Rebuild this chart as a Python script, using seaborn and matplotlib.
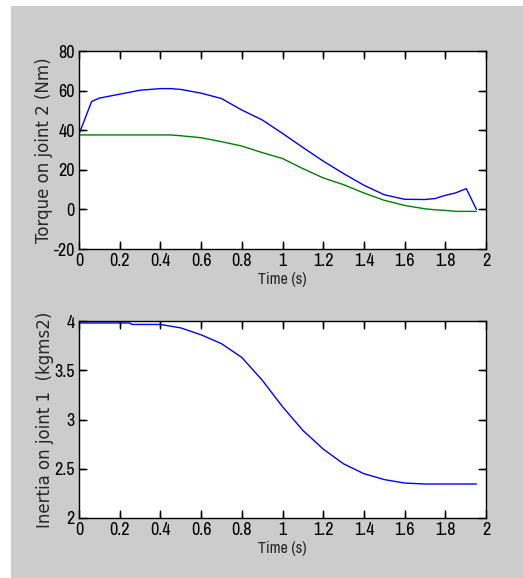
import matplotlib
matplotlib.use("Agg")
import matplotlib.pyplot as plt
from matplotlib.patches import Rectangle
from matplotlib import font_manager
import seaborn as sns
import pandas as pd
import numpy as np

# ---- data ----
t_torque = [0.0, 0.062, 0.1, 0.2, 0.3, 0.4, 0.45, 0.5, 0.6, 0.7, 0.8, 0.9, 1.0, 1.1, 1.2,
            1.3, 1.4, 1.5, 1.6, 1.7, 1.75, 1.8, 1.85, 1.903, 1.953]
torque_total = [38.0, 54.5, 56.2, 58.2, 60.2, 61.0, 61.0, 60.6, 58.7, 56.0, 50.2, 45.2, 38.4,
                31.3, 24.4, 18.1, 12.2, 7.4, 5.1, 5.0, 5.5, 7.1, 8.3, 10.5, 0.0]
torque_static = [37.6, 37.6, 37.6, 37.6, 37.6, 37.6, 37.6, 37.2, 36.2, 34.2, 32.0, 28.7, 25.7,
                 20.6, 15.9, 12.5, 8.3, 4.6, 2.0, 0.3, -0.2, -0.5, -1.0, -1.0, -1.0]

t_inertia = [0.0, 0.25, 0.26, 0.4, 0.5, 0.6, 0.7, 0.8, 0.9, 1.0, 1.1, 1.2, 1.3, 1.4, 1.5,
             1.6, 1.7, 1.8, 1.953]
inertia = [3.98, 3.98, 3.965, 3.965, 3.93, 3.86, 3.77, 3.63, 3.40, 3.13, 2.89, 2.70, 2.55,
           2.45, 2.39, 2.355, 2.345, 2.345, 2.345]

x_ticks = [0, 0.2, 0.4, 0.6, 0.8, 1, 1.2, 1.4, 1.6, 1.8, 2]
x_tick_labels = ["0", "0.2", "0.4", "0.6", "0.8", "1", "1.2", "1.4", "1.6", "1.8", "2"]
y1_ticks = [-20, 0, 20, 40, 60, 80]
y1_tick_labels = ["-20", "0", "20", "40", "60", "80"]
y2_ticks = [2, 2.5, 3, 3.5, 4]
y2_tick_labels = ["2", "2.5", "3", "3.5", "4"]

sns.set_theme(style="ticks", rc={
    "xtick.direction": "in", "ytick.direction": "in",
    "xtick.top": True, "xtick.bottom": True, "ytick.left": True, "ytick.right": True,
    "xtick.major.size": 6, "ytick.major.size": 6,
    "xtick.major.width": 1.0, "ytick.major.width": 1.0,
    "xtick.color": "black", "ytick.color": "black",
    "axes.edgecolor": "black", "axes.linewidth": 1.0,
    "axes.unicode_minus": False, "axes.axisbelow": False,
})
names = {f.name for f in font_manager.fontManager.ttflist}
narrow = next((n for n in ["Liberation Sans Narrow", "Arial Narrow", "Archivo Narrow",
                           "Roboto Condensed", "Asap Condensed", "Liberation Sans"] if n in names),
              "DejaVu Sans")
plt.rcParams["font.family"] = [narrow, "DejaVu Sans"]

W, H = 523, 578
fig = plt.figure(figsize=(W / 100, H / 100), dpi=100, facecolor="white")
bg = Rectangle((11 / W, 0), 1, (H - 6) / H, transform=fig.transFigure,
               facecolor="#cccccc", edgecolor="none", zorder=-10)
fig.add_artist(bg)

ax1 = fig.add_axes([79 / W, 1 - 249 / H, 407 / W, 198 / H])
ax2 = fig.add_axes([79 / W, 1 - 518 / H, 407 / W, 197 / H])

df1 = pd.DataFrame({"t": t_torque * 2,
                    "v": torque_total + torque_static,
                    "s": ["total"] * len(t_torque) + ["static"] * len(t_torque)})
sns.lineplot(data=df1, x="t", y="v", hue="s", palette={"total": "#0000ff", "static": "#008000"},
             ax=ax1, legend=False, linewidth=1.0, sort=False)

df2 = pd.DataFrame({"t": t_inertia, "v": inertia})
sns.lineplot(data=df2, x="t", y="v", color="#0000ff", ax=ax2, linewidth=1.0, sort=False)

TICK_PX = 6
for ax, yt in ((ax1, y1_ticks), (ax2, y2_ticks)):
    ax.set_facecolor("white")
    ax.set_xlim(0, 2)
    ax.set_xticks(x_ticks)
    ax.set_xticklabels(x_tick_labels)
    ax.tick_params(which="major", direction="in", length=TICK_PX, width=1.0, color="black",
                   labelcolor="black", labelsize=13, pad=3,
                   top=True, bottom=True, left=True, right=True)
    for sp in ax.spines.values():
        sp.set_visible(True)
        sp.set_color("black")
        sp.set_linewidth(1.0)
    ax.set_xlabel("Time (s)", fontsize=11.5, labelpad=2)

ax1.set_ylim(-20, 80)
ax1.set_yticks(y1_ticks)
ax1.set_yticklabels(y1_tick_labels)
ax1.set_ylabel("Torque on joint 2 (Nm)", fontsize=12, family=["DejaVu Sans"], labelpad=0)
ax2.set_ylim(2, 4)
ax2.set_yticks(y2_ticks)
ax2.set_yticklabels(y2_tick_labels)
ax2.set_ylabel("Inertia on joint 1  (kgms2)", fontsize=12, family=["DejaVu Sans"], labelpad=0)

# inward tick marks (MATLAB box style), drawn on the axis scales at the tick positions
for ax, yt in ((ax1, y1_ticks), (ax2, y2_ticks)):
    bb = ax.get_position()
    fx = TICK_PX / (bb.height * H)
    fy = TICK_PX / (bb.width * W)
    xt = [v for v in x_ticks if 0 < v < 2]
    ytt = [v for v in yt if ax.get_ylim()[0] < v < ax.get_ylim()[1]]
    xtr = ax.get_xaxis_transform()
    ytr = ax.get_yaxis_transform()
    ax.vlines(xt, 0, fx, transform=xtr, colors="black", linewidth=1.0, clip_on=False, zorder=3)
    ax.vlines(xt, 1 - fx, 1, transform=xtr, colors="black", linewidth=1.0, clip_on=False, zorder=3)
    ax.hlines(ytt, 0, fy, transform=ytr, colors="black", linewidth=1.0, clip_on=False, zorder=3)
    ax.hlines(ytt, 1 - fy, 1, transform=ytr, colors="black", linewidth=1.0, clip_on=False, zorder=3)

fig.savefig("out.png", dpi=100, facecolor="white")
